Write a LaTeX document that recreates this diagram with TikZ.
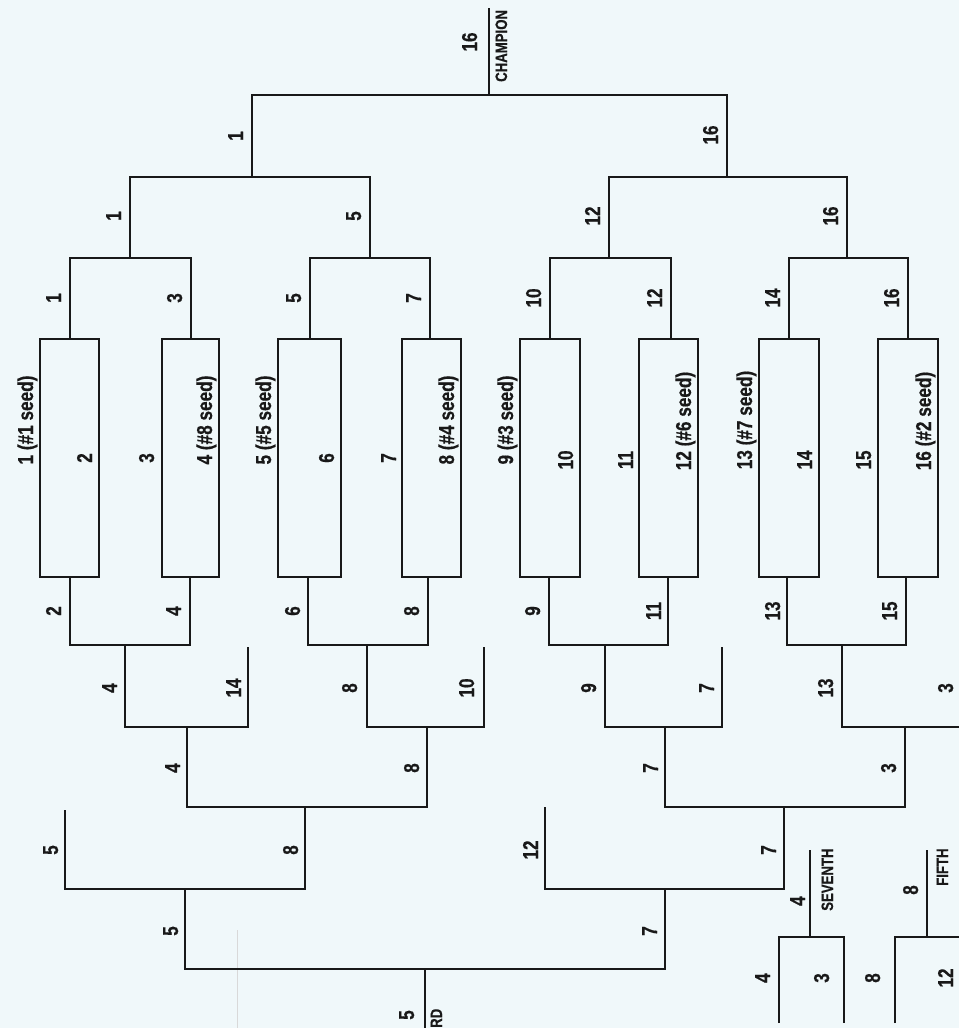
\documentclass[tikz,border=0pt]{standalone}
\usepackage{fontspec}
\newfontfamily\cond[FakeStretch=0.8, BoldFeatures={FakeBold=0.5}]{Liberation Sans}
\definecolor{bg}{RGB}{240,248,250}
\definecolor{ink}{RGB}{25,25,25}
\begin{document}
\begin{tikzpicture}[x=1pt,y=-1pt,
  ln/.style={line width=1.8pt, draw=ink, line join=miter},
  lb/.style={rotate=90, anchor=base, inner sep=0pt, text=ink, font=\cond\bfseries\fontsize{21.5}{21.5}\selectfont},
  tg/.style={rotate=90, anchor=base west, inner sep=0pt, text=ink, font=\cond\bfseries\fontsize{16.5}{16.5}\selectfont}]
\fill[bg] (0,0) rectangle (959,1028);
\useasboundingbox (0,0) rectangle (959,1028);
% scan artifact
\draw[gray!30, line width=0.7pt] (237,930) -- (237,1028);
% ---------- winners bracket ----------
\draw[ln] (489,8) -- (489,95);
\draw[ln] (252,177) -- (252,95) -- (727,95) -- (727,177);
\draw[ln] (130,258) -- (130,177) -- (370,177) -- (370,258);
\draw[ln] (609,258) -- (609,177) -- (847,177) -- (847,258);
\draw[ln] (70,339) -- (70,258) -- (191,258) -- (191,339);
\draw[ln] (310,339) -- (310,258) -- (430,258) -- (430,339);
\draw[ln] (550,339) -- (550,258) -- (671,258) -- (671,339);
\draw[ln] (789,339) -- (789,258) -- (908,258) -- (908,339);
% first round boxes
\draw[ln] (40,339) rectangle (99,577);
\draw[ln] (162,339) rectangle (219,577);
\draw[ln] (278,339) rectangle (341,577);
\draw[ln] (402,339) rectangle (461,577);
\draw[ln] (520,339) rectangle (580,577);
\draw[ln] (639,339) rectangle (698,577);
\draw[ln] (759,339) rectangle (819,577);
\draw[ln] (878,339) rectangle (938,577);
% ---------- losers bracket ----------
\draw[ln] (70,577) -- (70,645) -- (190,645) -- (190,577);
\draw[ln] (308,577) -- (308,645) -- (428,645) -- (428,577);
\draw[ln] (549,577) -- (549,645) -- (668,645) -- (668,577);
\draw[ln] (787,577) -- (787,645) -- (906,645) -- (906,577);
\draw[ln] (125,645) -- (125,727) -- (248,727) -- (248,647);
\draw[ln] (367,645) -- (367,727) -- (484,727) -- (484,647);
\draw[ln] (605,645) -- (605,727) -- (722,727) -- (722,647);
\draw[ln] (842,645) -- (842,727) -- (959,727);
\draw[ln] (187,727) -- (187,807) -- (427,807) -- (427,727);
\draw[ln] (665,727) -- (665,807) -- (905,807) -- (905,727);
\draw[ln] (65,810) -- (65,889) -- (305,889) -- (305,807);
\draw[ln] (545,807) -- (545,889) -- (784,889) -- (784,807);
\draw[ln] (185,889) -- (185,969) -- (665,969) -- (665,889);
\draw[ln] (425,969) -- (425,1028);
% seventh and fifth place
\draw[ln] (779,1023) -- (779,937) -- (844,937) -- (844,1023);
\draw[ln] (810,937) -- (810,850);
\draw[ln] (895,1023) -- (895,937) -- (959,937);
\draw[ln] (927,937) -- (927,850);
% ---------- labels: winners ----------
\node[lb] (c16) at (477,42) {16};
\node[tg] (champ) at (507,82) {CHAMPION};
\node[lb] (f1) at (243,136) {1};
\node[lb] (f16) at (718,135) {16};
\node[lb] (s1) at (121,216) {1};
\node[lb] (s5) at (361,216) {5};
\node[lb] (s12) at (600,216) {12};
\node[lb] (s16) at (838,216) {16};
\node[lb] (q1) at (61,298) {1};
\node[lb] (q3) at (182,298) {3};
\node[lb] (q5) at (301,298) {5};
\node[lb] (q7) at (421,298) {7};
\node[lb] (q10) at (541,298) {10};
\node[lb] (q12) at (662,298) {12};
\node[lb] (q14) at (780,298) {14};
\node[lb] (q16) at (899,298) {16};
% seeds
\node[lb] (t1) at (33,420) {1 (\#1 seed)};
\node[lb] (t2) at (92,458) {2};
\node[lb] (t3) at (154,458) {3};
\node[lb] (t4) at (212,420) {4 (\#8 seed)};
\node[lb] (t5) at (271,420) {5 (\#5 seed)};
\node[lb] (t6) at (334,458) {6};
\node[lb] (t7) at (396,458) {7};
\node[lb] (t8) at (454,420) {8 (\#4 seed)};
\node[lb] (t9) at (513,420) {9 (\#3 seed)};
\node[lb] (t10) at (573,460) {10};
\node[lb] (t11) at (633,460) {11};
\node[lb] (t12) at (691,421) {12 (\#6 seed)};
\node[lb] (t13) at (752,420) {13 (\#7 seed)};
\node[lb] (t14) at (812,460) {14};
\node[lb] (t15) at (871,460) {15};
\node[lb] (t16) at (931,421) {16 (\#2 seed)};
% ---------- labels: losers ----------
\node[lb] (a2) at (61,611) {2};
\node[lb] (a4) at (181,611) {4};
\node[lb] (a6) at (300,611) {6};
\node[lb] (a8) at (419,611) {8};
\node[lb] (a9) at (540,611) {9};
\node[lb] (a11) at (661,611) {11};
\node[lb] (a13) at (780,611) {13};
\node[lb] (a15) at (897,611) {15};
\node[lb] (b4) at (117,688) {4};
\node[lb] (b14) at (241,688) {14};
\node[lb] (b8) at (357,688) {8};
\node[lb] (b10) at (474,688) {10};
\node[lb] (b9) at (596,688) {9};
\node[lb] (b7) at (714,688) {7};
\node[lb] (b13) at (833,688) {13};
\node[lb] (b3) at (953,688) {3};
\node[lb] (r4) at (180,768) {4};
\node[lb] (r8) at (419,768) {8};
\node[lb] (r7) at (658,768) {7};
\node[lb] (r3) at (896,768) {3};
\node[lb] (u5) at (58,850) {5};
\node[lb] (u8) at (298,850) {8};
\node[lb] (u12) at (538,850) {12};
\node[lb] (u7) at (776,850) {7};
\node[lb] (v5) at (178,931) {5};
\node[lb] (v7) at (657,931) {7};
\node[lb] (th5) at (414,1015) {5};
\node[tg] (third) at (442,1028) {RD};
\node[lb] (sv4) at (805,901) {4};
\node[tg] (seventh) at (833,911) {SEVENTH};
\node[lb] (fi8) at (918,890) {8};
\node[tg] (fifth) at (948,886) {FIFTH};
\node[lb] (w4) at (770,978) {4};
\node[lb] (w3) at (829,978) {3};
\node[lb] (w8) at (880,978) {8};
\node[lb] (w12) at (953,978) {12};
\end{tikzpicture}
\end{document}
